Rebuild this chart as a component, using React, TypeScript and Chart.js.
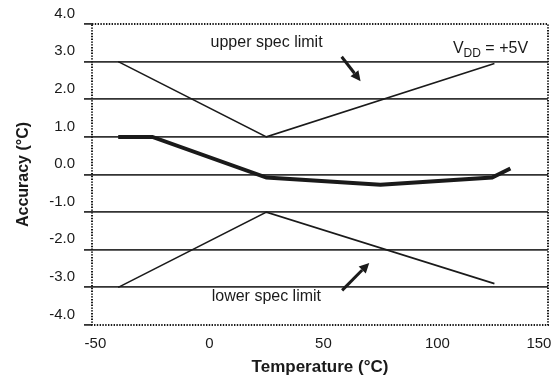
import React, { useEffect, useRef } from 'react';
import { Chart, registerables } from 'chart.js';

Chart.register(...registerables);

// ---- data ----
const X_TICKS = [-50, 0, 50, 100, 150];
const Y_TICKS = [-4, -3, -2, -1, 0, 1, 2, 3, 4];
const X_MIN = -51.5;
const X_MAX = 148.5;
const Y_MIN = -4;
const Y_MAX = 4;

const ACCURACY_TEMPS = [-40, -25, 25, 75, 124, 132];
const ACCURACY_VALUES = [1.0, 1.0, -0.08, -0.27, -0.08, 0.16];

const UPPER_SPEC_TEMPS = [-40, 25, 125];
const UPPER_SPEC_VALUES = [3.0, 1.0, 2.95];

const LOWER_SPEC_TEMPS = [-40, 25, 125];
const LOWER_SPEC_VALUES = [-3.0, -1.0, -2.9];

// annotations (data units)
const NOTE_TEXTS = ['upper spec limit', 'lower spec limit'];
const NOTE_X = [0.5, 1];
const NOTE_Y = [3.4, -3.35];
const VDD_X = 106.8;
const VDD_Y = 3.24;
const ARROW_FROM_X = [58, 58.2];
const ARROW_FROM_Y = [3.13, -3.08];
const ARROW_TO_X = [66.3, 70.1];
const ARROW_TO_Y = [2.48, -2.35];

const FONT = '"Liberation Sans", Arial, Helvetica, sans-serif';
const INK = '#1a1a1a';

const toPoints = (xs: number[], ys: number[]) => xs.map((x, i) => ({ x, y: ys[i] }));

const annotationPlugin = {
  id: 'annotations',
  afterDatasetsDraw(chart: any) {
    const { ctx, chartArea, scales } = chart;
    const xs = scales.x;
    const ys = scales.y;
    ctx.save();
    // dotted frame
    ctx.strokeStyle = INK;
    ctx.lineWidth = 2;
    ctx.setLineDash([1.4, 1.4]);
    ctx.strokeRect(chartArea.left, chartArea.top, chartArea.right - chartArea.left, chartArea.bottom - chartArea.top);
    ctx.setLineDash([]);

    // arrows
    for (let i = 0; i < ARROW_FROM_X.length; i++) {
      const x1 = xs.getPixelForValue(ARROW_FROM_X[i]);
      const y1 = ys.getPixelForValue(ARROW_FROM_Y[i]);
      const x2 = xs.getPixelForValue(ARROW_TO_X[i]);
      const y2 = ys.getPixelForValue(ARROW_TO_Y[i]);
      const ang = Math.atan2(y2 - y1, x2 - x1);
      const headLen = 10;
      const headW = 5;
      const bx = x2 - headLen * Math.cos(ang);
      const by = y2 - headLen * Math.sin(ang);
      ctx.strokeStyle = INK;
      ctx.fillStyle = INK;
      ctx.lineWidth = 3;
      ctx.beginPath();
      ctx.moveTo(x1, y1);
      ctx.lineTo(bx, by);
      ctx.stroke();
      ctx.beginPath();
      ctx.moveTo(x2, y2);
      ctx.lineTo(bx + headW * Math.sin(ang), by - headW * Math.cos(ang));
      ctx.lineTo(bx - headW * Math.sin(ang), by + headW * Math.cos(ang));
      ctx.closePath();
      ctx.fill();
    }

    // texts
    ctx.fillStyle = INK;
    ctx.textBaseline = 'alphabetic';
    ctx.textAlign = 'left';
    ctx.font = `16px ${FONT}`;
    for (let i = 0; i < NOTE_TEXTS.length; i++) {
      ctx.fillText(NOTE_TEXTS[i], xs.getPixelForValue(NOTE_X[i]), ys.getPixelForValue(NOTE_Y[i]));
    }
    // V_DD = +5V
    let vx = xs.getPixelForValue(VDD_X);
    const vy = ys.getPixelForValue(VDD_Y);
    ctx.font = `16px ${FONT}`;
    ctx.fillText('V', vx, vy);
    vx += ctx.measureText('V').width;
    ctx.font = `12px ${FONT}`;
    ctx.fillText('DD', vx, vy + 4);
    vx += ctx.measureText('DD').width;
    ctx.font = `16px ${FONT}`;
    ctx.fillText(' = +5V', vx, vy);
    ctx.restore();
  },
};

export default function App() {
  const ref = useRef<HTMLCanvasElement | null>(null);

  useEffect(() => {
    if (!ref.current) return;
    const chart = new Chart(ref.current, {
      type: 'line',
      data: {
        datasets: [
          {
            label: 'Accuracy',
            data: toPoints(ACCURACY_TEMPS, ACCURACY_VALUES),
            borderColor: INK,
            borderWidth: 4,
            pointRadius: 0,
            tension: 0,
          },
          {
            label: 'Upper spec limit',
            data: toPoints(UPPER_SPEC_TEMPS, UPPER_SPEC_VALUES),
            borderColor: INK,
            borderWidth: 1.6,
            pointRadius: 0,
            tension: 0,
          },
          {
            label: 'Lower spec limit',
            data: toPoints(LOWER_SPEC_TEMPS, LOWER_SPEC_VALUES),
            borderColor: INK,
            borderWidth: 1.6,
            pointRadius: 0,
            tension: 0,
          },
        ],
      },
      options: {
        responsive: false,
        animation: false,
        layout: { padding: { top: 24, right: 5, left: 0, bottom: 0 } },
        plugins: {
          legend: { display: false },
          tooltip: { enabled: false },
        },
        scales: {
          x: {
            type: 'linear',
            min: X_MIN,
            max: X_MAX,
            afterBuildTicks: (scale: any) => {
              scale.ticks = [{ value: X_MIN }, ...X_TICKS.map((v) => ({ value: v }))];
            },
            afterFit: (scale: any) => {
              scale.height = 61;
              scale.paddingLeft = 0;
              scale.paddingRight = 0;
            },
            grid: { display: false, drawTicks: false },
            border: { display: false },
            ticks: {
              autoSkip: false,
              maxRotation: 0,
              align: 'inner',
              padding: 10,
              color: INK,
              font: { family: FONT, size: 15 },
              callback: (v: any) => (X_TICKS.includes(Number(v)) ? String(v) : ''),
            },
            title: {
              display: true,
              text: 'Temperature (°C)',
              color: INK,
              font: { family: FONT, size: 17, weight: 'bold' },
              padding: { top: 0, bottom: 8 },
            },
          },
          y: {
            type: 'linear',
            min: Y_MIN,
            max: Y_MAX,
            afterBuildTicks: (scale: any) => {
              scale.ticks = Y_TICKS.map((v) => ({ value: v }));
            },
            afterFit: (scale: any) => {
              scale.width = 92;
              scale.paddingTop = 0;
              scale.paddingBottom = 0;
            },
            grid: {
              color: (c: any) => (c.tick && Math.abs(c.tick.value) === 4 ? 'rgba(0,0,0,0)' : '#333'),
              tickColor: '#333',
              lineWidth: 1.8,
              tickLength: 8,
            },
            border: { display: false },
            ticks: {
              autoSkip: false,
              padding: 9,
              labelOffset: -10.5,
              color: INK,
              font: { family: FONT, size: 15 },
              callback: (v: any) => Number(v).toFixed(1),
            },
            title: {
              display: true,
              text: 'Accuracy (°C)',
              color: INK,
              font: { family: FONT, size: 16, weight: 'bold' },
              padding: { top: 14, bottom: 0 },
            },
          },
        },
      },
      plugins: [annotationPlugin],
    } as any);
    return () => chart.destroy();
  }, []);

  return (
    <div style={{ position: 'fixed', left: 0, top: 0, width: 553, height: 386, background: '#fff' }}>
      <canvas ref={ref} width={553} height={386} style={{ display: 'block', width: 553, height: 386 }} />
    </div>
  );
}
